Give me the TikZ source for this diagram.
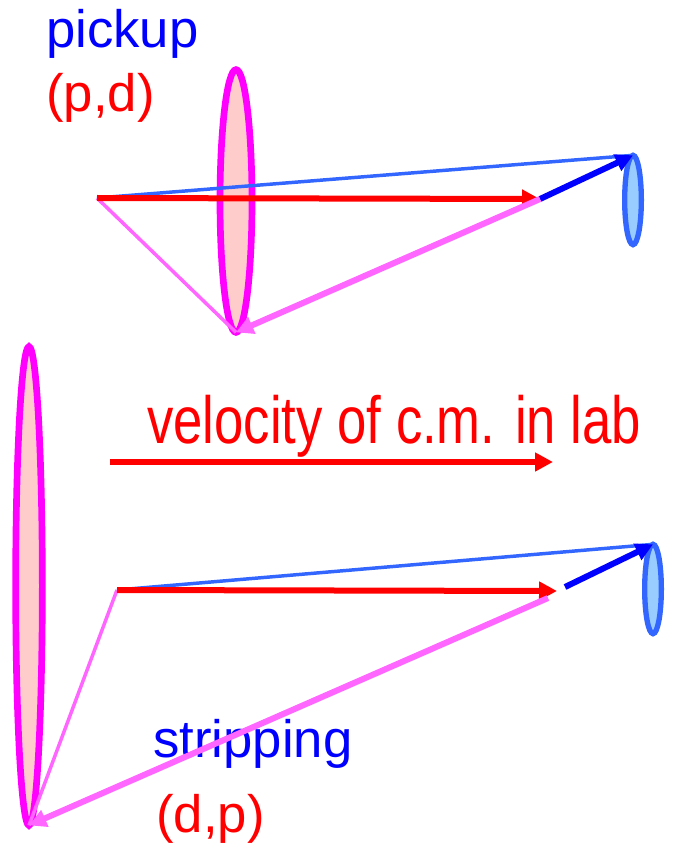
\documentclass[tikz,border=0pt]{standalone}
\usepackage{graphicx}
\usepackage{fontspec}
\setmainfont{Liberation Sans}
\usetikzlibrary{shapes.geometric,arrows.meta,positioning}
\definecolor{beamblue}{HTML}{3366FF}
\definecolor{lensmag}{HTML}{FF00FF}
\definecolor{lensfill}{HTML}{FFCCCC}
\definecolor{lensblue}{HTML}{99CCFF}
\definecolor{lightmag}{HTML}{FF66FF}
\tikzset{
  % Momentum spheres (seen edge-on): ellipses
  tlens/.style={draw=lensmag, fill=lensfill, ellipse, line width=5pt,
                inner sep=0pt, outer sep=0pt},
  plens/.style={draw=beamblue, fill=lensblue, ellipse, line width=4pt,
                inner sep=0pt, outer sep=0pt, minimum width=12.5pt, minimum height=67pt},
  % Labels
  lbl/.style={anchor=base west, inner sep=0pt, font=\fontsize{39.5}{46}\selectfont},
  % Arrows
  vcm/.style={-{Triangle[length=13.5pt,width=13.5pt]}, red, line width=4.5pt},
  vthin/.style={beamblue, line width=2.6pt},
  vfrag/.style={-{Triangle[length=13pt,width=13pt]}, blue, line width=4.5pt},
  vpink/.style={lightmag, line width=2.6pt},
  vpinkarr/.style={-{Triangle[length=13pt,width=13pt]}, lightmag, line width=4.5pt}
}

\begin{document}
\begin{tikzpicture}[x=0.75pt, y=-0.75pt]
\useasboundingbox (0,0) rectangle (672,855);

% ============== TOP: PICKUP (p,d) ==============
\node[lbl, blue] (pickup) at (46,48) {pickup};
\node[lbl, red] (pd) at (46,112) {(p,d)};

\node[tlens, minimum width=24pt, minimum height=197pt] (tlensA) at (236,201) {};
\node[plens] (plensA) at (633,200) {};

\coordinate (srcA) at (97,198);
\coordinate (kickA) at (540,199);

\draw[vthin] (srcA) -- (plensA.north);
\draw[vpink] (srcA) -- (tlensA.south);
\draw[vcm] (srcA) -- (kickA);
\draw[vfrag] (kickA) -- (plensA.north);
\draw[vpinkarr] (kickA) -- (tlensA.south);

% ============== MIDDLE: c.m. velocity ==============
\node[anchor=base west, inner sep=0pt, red] (vlab) at (147,443)
  {\scalebox{0.79}[1]{\fontsize{50}{60}\selectfont velocity of c.m. in lab}};
\coordinate (cmA) at (110,462);
\coordinate (cmB) at (553,462);
\draw[vcm] (cmA) -- (cmB);

% ============== BOTTOM: STRIPPING (d,p) ==============
\node[lbl, blue] (strip) at (153,757) {stripping};
\node[lbl, red] (dp) at (156,832) {(d,p)};

\node[tlens, minimum width=20pt, minimum height=359pt] (tlensB) at (29,586) {};
\node[plens] (plensB) at (653,589) {};

\coordinate (srcB) at (117,590);
\coordinate (kickB) at (557,591);
\coordinate (fragB) at (565,587);
\coordinate (pinkB) at (548,598);

\draw[vthin] (srcB) -- (plensB.north);
\draw[vpink] (srcB) -- (tlensB.south);
\draw[vcm] (srcB) -- (kickB);
\draw[vfrag] (fragB) -- (plensB.north);
\draw[vpinkarr] (pinkB) -- (tlensB.south);

\end{tikzpicture}
\end{document}
